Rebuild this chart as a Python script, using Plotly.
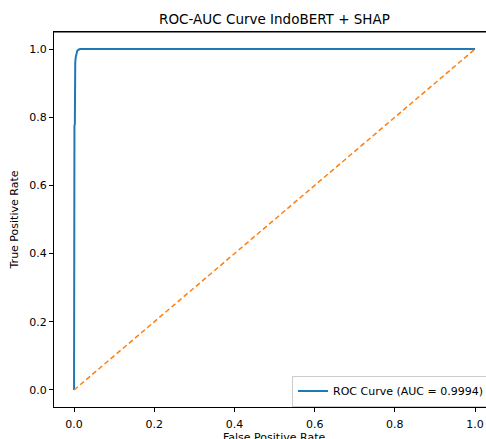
import plotly.graph_objects as go

# ROC curve data
fpr = [0.0, 0.0, 0.001, 0.002, 0.002, 0.003, 0.004, 0.006, 0.008, 0.011, 0.015, 0.02, 1.0]
tpr = [0.0, 0.77, 0.775, 0.78, 0.95, 0.96, 0.975, 0.988, 0.995, 0.998, 1.0, 1.0, 1.0]
diag_x = [0.0, 1.0]
diag_y = [0.0, 1.0]
auc_label = "ROC Curve (AUC = 0.9994)"
title = "ROC-AUC Curve IndoBERT + SHAP"
x_title = "False Positive Rate"
y_title = "True Positive Rate"
tick_vals = [0.0, 0.2, 0.4, 0.6, 0.8, 1.0]
tick_text = ["0.0", "0.2", "0.4", "0.6", "0.8", "1.0"]

W, H = 486, 439
L, T, B = 54, 32, 32
px_per_unit = 401.0
x0 = -0.05
x1 = x0 + (W - L) / px_per_unit
PH = H - T - B
PW = W - L

fig = go.Figure()
fig.add_trace(go.Scatter(x=fpr, y=tpr, mode="lines", name=auc_label,
                         line=dict(color="#1f77b4", width=2)))
fig.add_trace(go.Scatter(x=diag_x, y=diag_y, mode="lines", showlegend=False,
                         line=dict(color="#ff7f0e", width=1.5, dash="5px,3px")))

font = "DejaVu Sans, sans-serif"
fig.update_layout(
    width=W, height=H,
    margin=dict(l=L, r=0, t=T, b=B, autoexpand=False),
    paper_bgcolor="white", plot_bgcolor="white",
    font=dict(family=font, size=11, color="black"),
    title=dict(text=title, x=(L + (L + 441)) / 2 / W, xanchor="center",
               y=1 - 19 / H, yanchor="middle", font=dict(size=13.5, color="black")),
    legend=dict(x=(292 - L) / PW, xanchor="left", y=(407 - 391) / PH, yanchor="middle",
                bordercolor="#cccccc", borderwidth=1, bgcolor="rgba(255,255,255,0.8)",
                font=dict(size=11), itemwidth=30, tracegroupgap=0),
    showlegend=True,
)
fig.update_xaxes(range=[x0, x1], tickvals=tick_vals, ticktext=tick_text,
                 showgrid=False, zeroline=False, showline=True, linecolor="black", linewidth=1,
                 mirror=True, ticks="outside", ticklen=4, tickcolor="black",
                 ticklabelstandoff=3, automargin=False)
fig.update_yaxes(range=[-0.05, 1.05], tickvals=tick_vals, ticktext=tick_text,
                 showgrid=False, zeroline=False, showline=True, linecolor="black", linewidth=1,
                 mirror=False, ticks="outside", ticklen=4, tickcolor="black",
                 title=dict(text=y_title, standoff=8, font=dict(size=11)),
                 automargin=False)
# top spine
fig.add_shape(type="line", xref="paper", yref="paper", x0=0, x1=1, y0=1, y1=1,
              line=dict(color="black", width=1))
# x-axis title (partly cut at the bottom edge, like the reference)
fig.add_annotation(text=x_title, xref="paper", yref="paper",
                   x=(274 - L) / PW, xanchor="center",
                   y=-(437 - 407) / PH, yanchor="middle", showarrow=False,
                   font=dict(size=11, color="black"))

fig.write_html("out.html", config={"displayModeBar": False},
               post_script="document.body.style.margin='0';document.body.style.overflow='hidden';")
